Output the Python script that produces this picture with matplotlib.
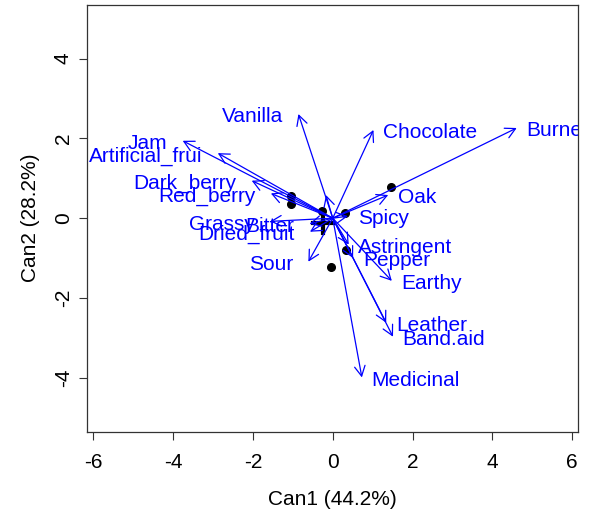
import matplotlib
matplotlib.use("Agg")
import matplotlib.pyplot as plt
import numpy as np

plt.rcParams['font.family'] = ['Liberation Sans', 'DejaVu Sans']

# variable vectors (Can1, Can2)
names = ["Burned", "Chocolate", "Vanilla", "Jam", "Artificial_frui", "Dark_berry",
         "Red_berry", "Oak", "Spicy", "Grassy", "Bitter", "Dried_fruit", "Sour",
         "Astringent", "Pepper", "Earthy", "Leather", "Band.aid", "Medicinal", ""]
can1 = [4.61, 1.02, -0.86, -3.76, -2.88, -2.03, -1.55, 1.39, 0.38, -1.57, -0.58,
        -0.57, -0.61, 0.40, 0.51, 1.48, 1.34, 1.51, 0.73, -0.17]
can2 = [2.26, 2.21, 2.61, 1.94, 1.63, 0.94, 0.62, 0.58, 0.05, -0.08, -0.14,
        -0.34, -1.09, -0.66, -1.00, -1.57, -2.62, -2.97, -3.99, 0.58]

# group scores (black points)
pt_x = [-1.05, -1.05, -0.27, 0.31, 1.47, 0.33, -0.04]
pt_y = [0.55, 0.35, 0.17, 0.12, 0.77, -0.80, -1.22]
# thick cross near origin
cross_vx = [-0.25, -0.25]
cross_vy = [0.17, -0.38]
cross_hx = [-0.49, 0.0]
cross_hy = [-0.125, -0.125]

xticks = [-6, -4, -2, 0, 2, 4, 6]
yticks = [-4, -2, 0, 2, 4]

fig = plt.figure(figsize=(5.98, 5.2), dpi=100)
ax = fig.add_axes([0.145, 0.1698, 0.8217, 0.8212])
ax.set_xlim(-6.165, 6.148)
ax.set_ylim(-5.35, 5.35)

ax.plot(pt_x, pt_y, 'o', color='black', ms=5.5, zorder=3)
ax.plot(cross_vx, cross_vy, color='black', lw=3, zorder=3)
ax.plot(cross_hx, cross_hy, color='black', lw=3, zorder=3)

for n, x, y in zip(names, can1, can2):
    ax.annotate("", xy=(x, y), xytext=(0, 0),
                arrowprops=dict(arrowstyle='->,head_length=0.72,head_width=0.38',
                                color='blue', lw=0.9, shrinkA=0, shrinkB=0,
                                mutation_scale=10), zorder=4)
    if n:
        if x > 0:
            ax.annotate(n, xy=(x, y), xytext=(7, -2), textcoords='offset points',
                        ha='left', va='center', color='blue', fontsize=15,
                        annotation_clip=False, clip_on=True, zorder=5)
        else:
            ax.annotate(n, xy=(x, y), xytext=(-11, -2), textcoords='offset points',
                        ha='right', va='center', color='blue', fontsize=15,
                        annotation_clip=False, clip_on=True, zorder=5)

ax.set_xticks(xticks)
ax.set_yticks(yticks)
ax.set_xticklabels([str(t) for t in xticks])
ax.set_yticklabels([str(t) for t in yticks], rotation=90, va='center')
ax.tick_params(direction='out', length=6, width=0.8, labelsize=15, color='#333333')
ax.tick_params(axis='x', pad=9)
ax.tick_params(axis='y', pad=4)
for s in ax.spines.values():
    s.set_color('#333333')
    s.set_linewidth(0.9)

ax.set_xlabel("Can1 (44.2%)", fontsize=15, labelpad=13)
ax.set_ylabel("Can2 (28.2%)", fontsize=15, labelpad=10)

fig.savefig("out.png", dpi=100)
